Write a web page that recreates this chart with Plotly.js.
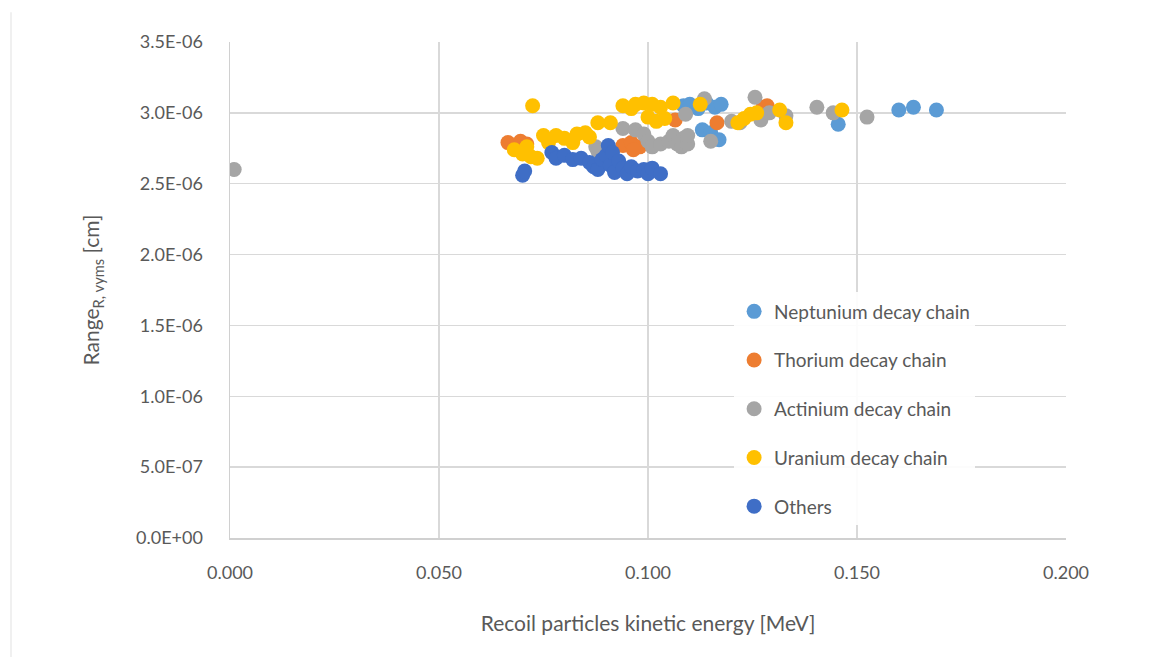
<!DOCTYPE html>
<html>
<head>
<meta charset="utf-8">
<script src="https://cdn.plot.ly/plotly-3.0.1.min.js"></script>
<style>
html,body{margin:0;padding:0;background:#fff;}
#chart{width:1171px;height:662px;}
</style>
</head>
<body>
<div id="chart"></div>
<script>
// Neptunium decay chain
const neptuniumX = [0.1085, 0.1100, 0.1120, 0.1140, 0.1160, 0.1175, 0.1130, 0.1150, 0.1170, 0.1455, 0.1600, 0.1635, 0.1690];
const neptuniumY = [3.05e-6, 3.06e-6, 3.03e-6, 3.07e-6, 3.04e-6, 3.06e-6, 2.88e-6, 2.86e-6, 2.81e-6, 2.92e-6, 3.02e-6, 3.04e-6, 3.02e-6];
// Thorium decay chain
const thoriumX = [0.0665, 0.0695, 0.0710, 0.0940, 0.0960, 0.0980, 0.0965, 0.1065, 0.1165, 0.1275, 0.1285];
const thoriumY = [2.79e-6, 2.80e-6, 2.78e-6, 2.77e-6, 2.79e-6, 2.76e-6, 2.74e-6, 2.95e-6, 2.93e-6, 3.04e-6, 3.05e-6];
// Actinium decay chain
const actiniumX = [0.0010, 0.0875, 0.0880, 0.0910, 0.0940, 0.0970, 0.0990, 0.1000, 0.1010, 0.1030, 0.1050, 0.1060, 0.1070, 0.1080, 0.1085, 0.1095, 0.1090, 0.1135, 0.1150, 0.1095, 0.1200, 0.1220, 0.1256, 0.1270, 0.1290, 0.1330, 0.1404, 0.1443, 0.1524];
const actiniumY = [2.60e-6, 2.76e-6, 2.73e-6, 2.72e-6, 2.89e-6, 2.88e-6, 2.85e-6, 2.80e-6, 2.76e-6, 2.78e-6, 2.80e-6, 2.84e-6, 2.78e-6, 2.76e-6, 2.82e-6, 2.78e-6, 2.99e-6, 3.10e-6, 2.80e-6, 2.84e-6, 2.94e-6, 2.93e-6, 3.11e-6, 2.95e-6, 3.00e-6, 2.98e-6, 3.04e-6, 3.00e-6, 2.97e-6];
// Uranium decay chain
const uraniumX = [0.0724, 0.0680, 0.0700, 0.0720, 0.0735, 0.0710, 0.0762, 0.0750, 0.0780, 0.0800, 0.0820, 0.0830, 0.0850, 0.0860, 0.0880, 0.0910, 0.0940, 0.0960, 0.0970, 0.0990, 0.1010, 0.1030, 0.1060, 0.1000, 0.1020, 0.1040, 0.1125, 0.1215, 0.1230, 0.1245, 0.1260, 0.1315, 0.1330, 0.1464];
const uraniumY = [3.05e-6, 2.74e-6, 2.71e-6, 2.69e-6, 2.68e-6, 2.76e-6, 2.79e-6, 2.84e-6, 2.84e-6, 2.82e-6, 2.79e-6, 2.85e-6, 2.86e-6, 2.83e-6, 2.93e-6, 2.93e-6, 3.05e-6, 3.03e-6, 3.06e-6, 3.07e-6, 3.06e-6, 3.04e-6, 3.07e-6, 2.97e-6, 2.94e-6, 2.96e-6, 3.06e-6, 2.93e-6, 2.96e-6, 2.99e-6, 3.00e-6, 3.02e-6, 2.93e-6, 3.02e-6];
// Others
const othersX = [0.0700, 0.0705, 0.0770, 0.0780, 0.0800, 0.0820, 0.0840, 0.0860, 0.0870, 0.0880, 0.0890, 0.0900, 0.0905, 0.0910, 0.0915, 0.0920, 0.0930, 0.0940, 0.0950, 0.0960, 0.0975, 0.0990, 0.1000, 0.1010, 0.1030];
const othersY = [2.56e-6, 2.59e-6, 2.72e-6, 2.68e-6, 2.70e-6, 2.67e-6, 2.68e-6, 2.65e-6, 2.62e-6, 2.60e-6, 2.67e-6, 2.70e-6, 2.77e-6, 2.63e-6, 2.72e-6, 2.58e-6, 2.66e-6, 2.61e-6, 2.57e-6, 2.62e-6, 2.59e-6, 2.60e-6, 2.57e-6, 2.61e-6, 2.57e-6];

const seriesNames = ['Neptunium decay chain', 'Thorium decay chain', 'Actinium decay chain', 'Uranium decay chain', 'Others'];
const seriesColors = ['#5B9BD5', '#ED7D31', '#A5A5A5', '#FFC000', '#3F6EC6'];

const xTickVals = [0, 0.05, 0.1, 0.15, 0.2];
const xTickText = ['0.000', '0.050', '0.100', '0.150', '0.200'];
const yTickVals = [0, 0.5e-6, 1.0e-6, 1.5e-6, 2.0e-6, 2.5e-6, 3.0e-6, 3.5e-6];
const yTickText = ['0.0E+00', '5.0E-07', '1.0E-06', '1.5E-06', '2.0E-06', '2.5E-06', '3.0E-06', '3.5E-06'];

const xs = [neptuniumX, thoriumX, actiniumX, uraniumX, othersX];
const ys = [neptuniumY, thoriumY, actiniumY, uraniumY, othersY];

const traces = seriesNames.map((n, i) => ({
  type: 'scatter', mode: 'markers', name: n, x: xs[i], y: ys[i],
  legendgroup: 'g' + i,
  marker: {color: seriesColors[i], size: 15, line: {width: 0}}
}));

const fontFam = 'Lato, "Open Sans", sans-serif';
const layout = {
  width: 1171, height: 662,
  paper_bgcolor: '#ffffff', plot_bgcolor: '#ffffff',
  margin: {l: 230, r: 105, t: 42, b: 124},
  font: {family: fontFam, color: '#595959'},
  showlegend: true,
  legend: {
    x: 0.603, y: 0.495, xanchor: 'left', yanchor: 'top',
    font: {size: 19, color: '#595959', family: fontFam},
    tracegroupgap: 21, itemwidth: 30, bgcolor: 'rgba(255,255,255,0.9)'
  },
  shapes: [
    {type: 'line', xref: 'paper', yref: 'paper', x0: -0.262, x1: -0.262, y0: 1.06, y1: -0.24,
     line: {color: '#F0F0F0', width: 2}}
  ],
  xaxis: {
    range: [0, 0.2], tickvals: xTickVals, ticktext: xTickText,
    showgrid: true, gridcolor: '#D9D9D9', gridwidth: 1.5,
    showline: true, linecolor: '#D0D0D0', linewidth: 1.5, zeroline: false,
    ticks: '', ticklabelstandoff: 18,
    tickfont: {size: 18, color: '#595959'},
    title: {text: 'Recoil particles kinetic energy [MeV]', font: {size: 21, color: '#595959'}, standoff: 34},
    automargin: false
  },
  yaxis: {
    range: [0, 3.5e-6], tickvals: yTickVals, ticktext: yTickText,
    showgrid: true, gridcolor: '#D9D9D9', gridwidth: 1.5,
    showline: true, linecolor: '#D0D0D0', linewidth: 1.5, zeroline: false,
    ticks: '', ticklabelstandoff: 22,
    tickfont: {size: 18, color: '#595959'},
    title: {text: 'Range<sub>R, vyms</sub> [cm]', font: {size: 21, color: '#595959'}, standoff: 30},
    automargin: false
  }
};

Plotly.newPlot('chart', traces, layout, {displayModeBar: false, staticPlot: true});
</script>
</body>
</html>
